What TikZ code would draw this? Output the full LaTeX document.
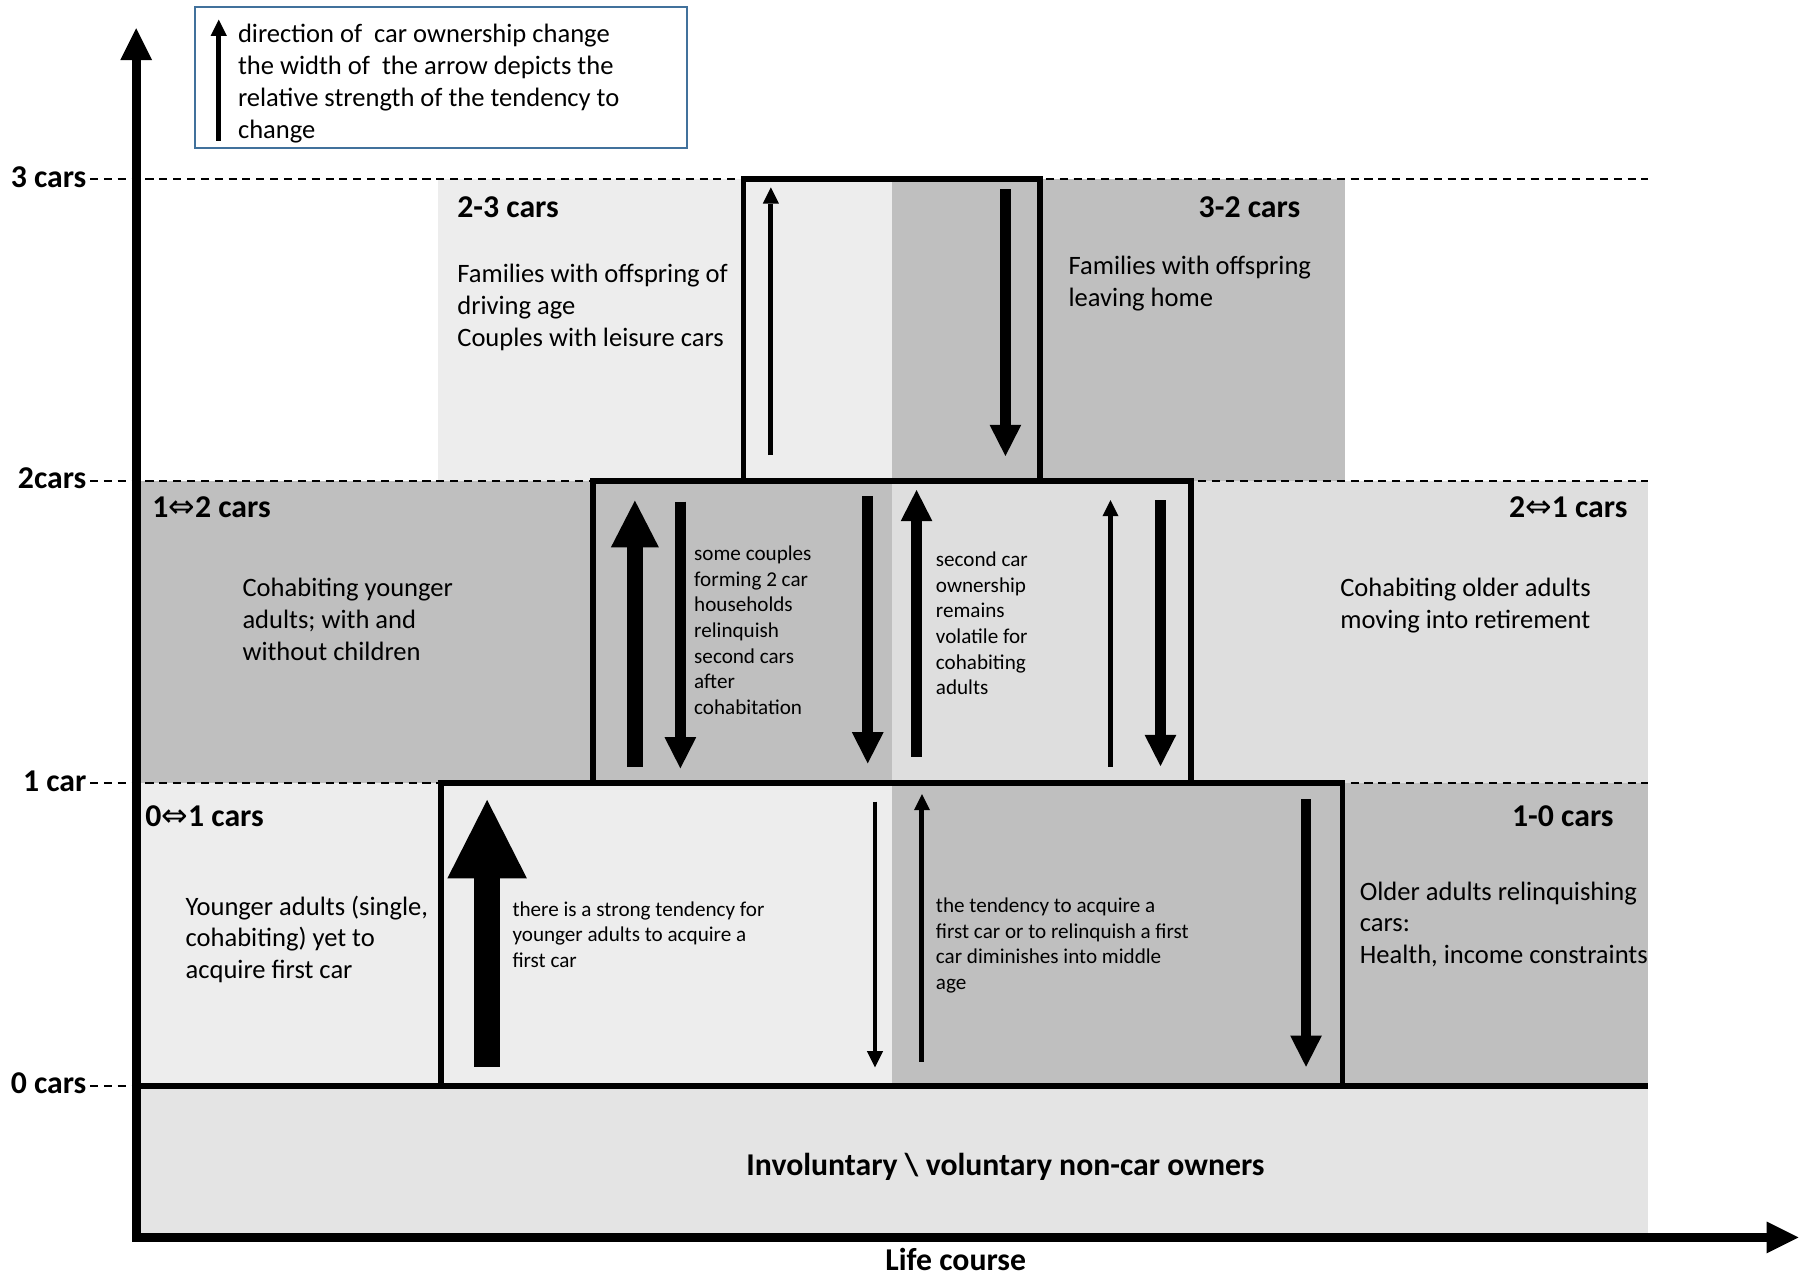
\documentclass[tikz,border=0pt]{standalone}
\usepackage{fontspec}
\setmainfont{Carlito}
\newfontfamily\symfont{DejaVu Sans}
\usetikzlibrary{arrows.meta}

\definecolor{shadelight}{RGB}{237,237,237}
\definecolor{shadedark}{RGB}{191,191,191}
\definecolor{shademid}{RGB}{222,222,222}
\definecolor{shadebase}{RGB}{228,228,228}
\definecolor{legendblue}{RGB}{65,113,156}

% left-aligned block of lines whose baseline is the first line
\newcommand\textrows[1]{\vtop{\halign{##\hfil\cr#1\crcr}}}
\newcommand\fbody{\fontsize{23}{27.6}\selectfont}
\newcommand\fsmall{\fontsize{18.3}{22.2}\selectfont}
\newcommand\fhead{\fontsize{27.5}{33}\selectfont\bfseries}
\newcommand\both{{\symfont\mdseries ⇔}}

\begin{document}
\begin{tikzpicture}[x=1pt,y=-1pt,
  txt/.style={inner sep=0pt, anchor=base west},
  body/.style={txt, font=\fbody},
  small/.style={txt, font=\fsmall},
  head/.style={txt, font=\fhead},
  boxline/.style={line width=5pt},
  levelline/.style={line width=1.5pt, dash pattern=on 7pt off 5pt},
  thinarr/.style={line width=4.3pt, -{Triangle[width=14pt,length=14pt,line width=0pt]}},
  medarr/.style={line width=9.4pt, -{Triangle[width=27.5pt,length=27pt,line width=0pt]}},
  bigarr/.style={line width=13.2pt, -{Triangle[width=41.6pt,length=40.5pt,line width=0pt]}},
  hugearr/.style={line width=23pt, -{Triangle[width=69pt,length=68pt,line width=0pt]}},
  axistip/.tip={Triangle[width=27.5pt,length=27.5pt,line width=0pt]}
]
\useasboundingbox (0,0) rectangle (1568,1106);

% shaded bands of the ownership levels
\fill[shadelight] (118,678.5) rectangle (772.5,940.5);
\fill[shadedark]  (772.5,678.5) rectangle (1428,940.5);
\fill[shadedark]  (118,416.5) rectangle (772.5,678.5);
\fill[shademid]   (772.5,416.5) rectangle (1428,678.5);
\fill[shadelight] (379.5,155) rectangle (772.5,416.5);
\fill[shadedark]  (772.5,155) rectangle (1165.5,416.5);
\fill[shadebase]  (118,940.5) rectangle (1428,1072);

% level guide lines
\foreach \lv in {155,416.5,678.5}
  \draw[levelline] (78,\lv) -- (1428,\lv);
\draw[levelline] (78,940.5) -- (118,940.5);
\draw[boxline] (118,940.5) -- (1428,940.5);

% transition boxes
\draw[boxline] (382,678.5) rectangle (1163,940.5);
\draw[boxline] (513.6,416.5) rectangle (1032,678.5);
\draw[boxline] (644,155) rectangle (900.7,416.5);

% arrows between 0 and 1 car
\draw[hugearr] (422,924) -- (422,693);
\draw[thinarr] (758,694.5) -- (758,924.6);
\draw[thinarr] (798.7,919.7) -- (798.7,687.9);
\draw[medarr]  (1131.4,692.5) -- (1131.4,924.1);

% arrows between 1 and 2 cars
\draw[bigarr] (550,664.2) -- (550,433.7);
\draw[medarr] (589.4,434.6) -- (589.4,665.6);
\draw[medarr] (751.7,429.7) -- (751.7,661.3);
\draw[medarr] (794,655.5) -- (794,424.5);
\draw[thinarr] (962,664.2) -- (962,433.2);
\draw[medarr] (1005.3,433.2) -- (1005.3,663.6);

% arrows between 2 and 3 cars
\draw[thinarr] (667.8,394.2) -- (667.8,162.3);
\draw[medarr]  (871,164) -- (871,395);

% axes
\draw[line width=7.8pt, line join=miter, axistip-axistip]
  (118,24.5) -- (118,1072) -- (1558,1072);

% axis labels
\node[head, anchor=base east] (l3) at (75,162) {3 cars};
\node[head, anchor=base east] (l2) at (75,423.5) {2cars};
\node[head, anchor=base east] (l1) at (75,685.5) {1 car};
\node[head, anchor=base east] (l0) at (75,947.5) {0 cars};
\node[head, anchor=base] (xlab) at (828,1100.5) {Life course};

% band headings
\node[head] (h23) at (396,188.6) {2-3 cars};
\node[head, anchor=base east] (h32) at (1126.5,188.6) {3-2 cars};
\node[head] (h12) at (131.8,448.2) {1\both2 cars};
\node[head, anchor=base east] (h21) at (1410,448.2) {2\both1 cars};
\node[head] (h01) at (125.8,716.2) {0\both1 cars};
\node[head, anchor=base east] (h10) at (1398,716.2) {1-0 cars};
\node[head, anchor=base] (none) at (871,1018) {Involuntary \textbackslash\ voluntary non-car owners};

% group descriptions
\node[body] (d23) at (396,244.9) {\textrows{Families with offspring of\cr driving age\cr Couples with leisure cars}};
\node[body] (d32) at (925.5,238) {\textrows{Families with offspring\cr leaving home}};
\node[body] (d12) at (209.9,516.9) {\textrows{Cohabiting younger\cr adults; with and\cr without children}};
\node[body] (d21) at (1160.9,516.9) {\textrows{Cohabiting older adults\cr moving into retirement}};
\node[body] (d01) at (160.6,792.7) {\textrows{Younger adults (single,\cr cohabiting) yet to\cr acquire first car}};
\node[body] (d10) at (1177.8,779.7) {\textrows{Older adults relinquishing\cr cars:\cr Health, income constraints}};

% notes inside the boxes
\node[small] (n1) at (443.8,793.6) {\textrows{there is a strong tendency for\cr younger adults to acquire a\cr first car}};
\node[small] (n2) at (810.6,790.4) {\textrows{the tendency to acquire a\cr first car or to relinquish a first\cr car diminishes into middle\cr age}};
\node[small] (n3) at (601.2,485.7) {\textrows{some couples\cr forming 2 car\cr households\cr relinquish\cr second cars\cr after\cr cohabitation}};
\node[small] (n4) at (810.6,490.9) {\textrows{second car\cr ownership\cr remains\cr volatile for\cr cohabiting\cr adults}};

% legend
\draw[legendblue, line width=2pt] (169,6) rectangle (595,128);
\draw[thinarr] (189.5,122) -- (189.5,17);
\node[body] (key) at (206,37) {\textrows{direction of\ \ car ownership change\cr the width of\ \ the arrow depicts the\cr relative strength of the tendency to\cr change}};
\end{tikzpicture}
\end{document}
